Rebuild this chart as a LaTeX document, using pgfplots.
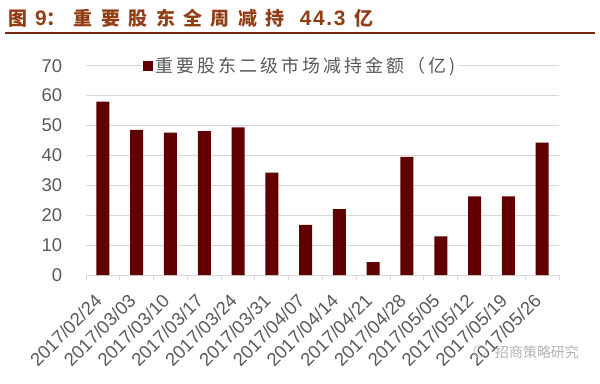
\documentclass[border=0pt]{standalone}
\usepackage{pgfplots}
\pgfplotsset{compat=1.18}
\usepackage{fontspec}
\setmainfont{Liberation Sans}
\newfontfamily\cjk{Noto Sans CJK SC}
\definecolor{barc}{RGB}{96,0,0}
\definecolor{titc}{RGB}{145,62,22}
\definecolor{linec}{RGB}{110,40,20}
\definecolor{txt}{RGB}{89,89,89}
\definecolor{grd}{RGB}{217,217,217}
\begin{document}
\begin{tikzpicture}[x=1bp,y=1bp]
\useasboundingbox (0,0) rectangle (600,383);
\node[anchor=base west, text=titc, font=\cjk\bfseries\fontsize{19}{19}\selectfont, inner sep=0] at (8,358)
  {\addfontfeature{LetterSpace=45}图\hspace{8bp}{\rmfamily\bfseries\fontsize{21}{21}\selectfont 9}：\hspace{8bp}重要股东全周减持\hspace{15bp}{\rmfamily\bfseries\fontsize{21}{21}\selectfont\addfontfeature{LetterSpace=8}44.3}\hspace{9bp}亿};
\draw[line width=1.5bp, color=linec] (5,350) -- (595,350);
\begin{axis}[
  at={(86bp,108bp)}, anchor=south west, scale only axis,
  width=473bp, height=209.3bp,
  xmin=-0.5, xmax=13.5, ymin=0, ymax=70,
  ytick={0,10,...,70},
  xtick={0,...,13},
  xticklabels={2017/02/24,2017/03/03,2017/03/10,2017/03/17,2017/03/24,2017/03/31,2017/04/07,2017/04/14,2017/04/21,2017/04/28,2017/05/05,2017/05/12,2017/05/19,2017/05/26},
  minor xtick={-0.5,0.5,...,13.5},
  major x tick style={draw=none},
  minor x tick style={draw=grd, line width=1bp},
  minor tick length=5bp,
  tick align=outside,
  axis x line*=bottom,
  axis y line*=left,
  y axis line style={draw=none},
  ytick style={draw=none},
  x axis line style={draw=grd, line width=1bp},
  ymajorgrids, grid style={draw=grd, line width=1bp},
  /pgf/number format/assume math mode=true,
  tick label style={text=txt, font=\fontsize{18.5}{20}\selectfont},
  yticklabel style={xshift=-16bp},
  xticklabel style={xshift=-2bp, yshift=-16bp, rotate=45, anchor=east},
  legend style={at={(rel axis cs:0.119,1)}, anchor=west, draw=none, fill=white,
    inner sep=1bp, font=\cjk\fontsize{18}{20}\selectfont\addfontfeature{LetterSpace=17}, text=txt,
    nodes={inner sep=2bp}},
  legend image code/.code={\fill[barc] (0bp,-5bp) rectangle (10bp,5bp);},
]
\addplot[ybar, bar width=13bp, fill=barc, draw=none] coordinates {
(0,58.0) (1,48.5) (2,47.6) (3,48.1) (4,49.4) (5,34.2) (6,16.8)
(7,22.0) (8,4.3) (9,39.5) (10,12.9) (11,26.3) (12,26.3) (13,44.3)};
\addlegendentry{重要股东二级市场减持金额（亿)}
\end{axis}
\draw[gray!45, line width=0.8bp] (480,32) circle (6);
\node[anchor=west, text=gray!60, font=\cjk\fontsize{14}{14}\selectfont, inner sep=0] at (495,31) {招商策略研究};
\end{tikzpicture}
\end{document}
